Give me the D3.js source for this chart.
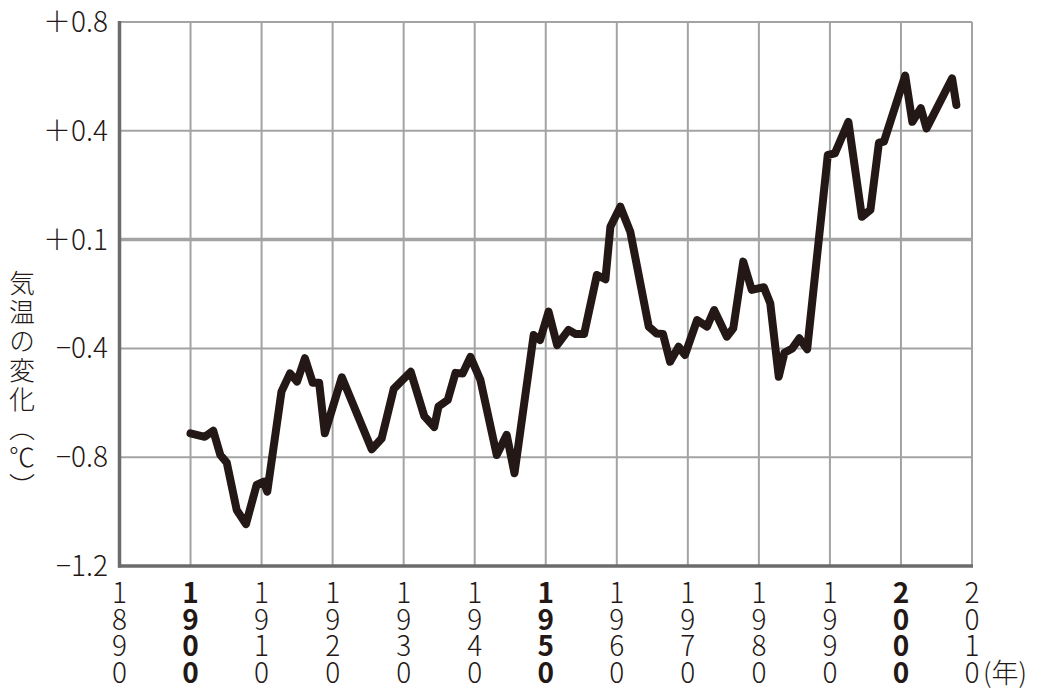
<!DOCTYPE html>
<html><head><meta charset="utf-8">
<script src="https://cdn.jsdelivr.net/npm/d3@7"></script>
<style>
html,body{margin:0;padding:0;background:#fff;}
text{font-family:"Noto Sans CJK JP","Noto Sans",sans-serif;fill:#231815;}
</style></head>
<body>
<svg id="chart" width="1040" height="700"></svg>
<script>
// Data (year, change in temperature on the plotted scale)
const years = [1900.0,1902.0,1903.2,1904.2,1905.1,1906.5,1907.8,1909.3,1910.3,1910.8,
  1912.8,1914.0,1915.0,1916.1,1917.2,1918.1,1918.9,1921.3,1925.5,1926.9,
  1928.6,1931.0,1932.9,1934.3,1934.9,1936.2,1937.3,1938.3,1939.4,1940.8,
  1943.1,1944.5,1945.6,1948.3,1949.2,1950.4,1951.6,1953.2,1954.2,1955.4,
  1957.2,1958.4,1959.1,1960.5,1961.9,1964.5,1965.6,1966.5,1967.5,1968.7,
  1969.6,1971.3,1972.7,1973.7,1975.5,1976.4,1977.8,1979.0,1980.7,1981.6,
  1982.8,1983.6,1984.7,1985.7,1986.8,1989.7,1990.7,1992.6,1994.5,1995.7,
  1996.9,1997.6,2000.6,2001.6,2002.8,2003.6,2007.2,2007.8];
const values = [-0.712,-0.725,-0.703,-0.792,-0.820,-0.994,-1.046,-0.902,-0.890,-0.927,
  -0.559,-0.492,-0.522,-0.436,-0.526,-0.526,-0.712,-0.506,-0.771,-0.731,
  -0.549,-0.486,-0.649,-0.689,-0.614,-0.590,-0.490,-0.492,-0.431,-0.516,
  -0.792,-0.718,-0.859,-0.351,-0.369,-0.265,-0.388,-0.332,-0.347,-0.347,
  -0.130,-0.146,0.047,0.121,0.029,-0.320,-0.345,-0.347,-0.449,-0.394,
  -0.424,-0.296,-0.320,-0.259,-0.357,-0.326,-0.081,-0.185,-0.175,-0.234,
  -0.504,-0.416,-0.400,-0.363,-0.403,0.311,0.317,0.433,0.084,0.109,
  0.356,0.360,0.603,0.433,0.483,0.409,0.593,0.495];
const yTickValues = [-1.2,-0.8,-0.4,0,0.4,0.8];
const yTickLabels = ["\u22121.2","\u22120.8","\u22120.4","\uFF0B0.1","\uFF0B0.4","\uFF0B0.8"];
const xTickValues = [1890,1900,1910,1920,1930,1940,1950,1960,1970,1980,1990,2000,2010];
const xBoldTicks = [1900,1950,2000];
const yTitle = "気温の変化\uFE35℃\uFE36";
const xUnit = "(年)";

const svg = d3.select("#chart");
const x = d3.scaleLinear().domain([1890,2010]).range([119.5,972]);
const y = d3.scaleLinear().domain([-1.2,0.8]).range([566,22]);

const grid = "#a3a3a3";
// vertical grid
svg.append("g").selectAll("line").data(xTickValues.filter(d=>d>1890)).join("line")
  .attr("x1",d=>x(d)).attr("x2",d=>x(d)).attr("y1",y(0.8)).attr("y2",y(-1.2))
  .attr("stroke",grid).attr("stroke-width",2);
// horizontal grid
svg.append("g").selectAll("line").data(yTickValues.filter(d=>d>-1.2)).join("line")
  .attr("x1",x(1890)).attr("x2",x(2010)).attr("y1",d=>y(d)).attr("y2",d=>y(d))
  .attr("stroke",grid).attr("stroke-width",d=>d===0?3.5:2);
// axes
svg.append("line").attr("x1",x(1890)).attr("x2",x(1890)).attr("y1",y(0.8)-1).attr("y2",y(-1.2)+1.5)
  .attr("stroke","#6b6b6b").attr("stroke-width",3.5);
svg.append("line").attr("x1",x(1890)-1.5).attr("x2",x(2010)+1).attr("y1",y(-1.2)).attr("y2",y(-1.2))
  .attr("stroke","#6b6b6b").attr("stroke-width",3.5);

// y tick labels
svg.append("g").selectAll("text").data(yTickValues).join("text")
  .attr("x",108).attr("y",d=>y(d)).attr("dy","0.36em")
  .attr("text-anchor","end").attr("font-size",28).attr("font-weight",300)
  .text((d,i)=>yTickLabels[i]);

// x tick labels, digits stacked vertically
const xl = svg.append("g").selectAll("text").data(xTickValues).join("text")
  .attr("font-size",28)
  .attr("font-weight",d=>xBoldTicks.includes(d)?700:300)
  .attr("text-anchor","middle");
xl.each(function(d){
  const t = d3.select(this);
  String(d).split("").forEach((c,i)=>{
    t.append("tspan").attr("x",x(d)).attr("y",603+i*26.7).text(c);
  });
});
svg.append("text").attr("x",983).attr("y",683).attr("font-size",27).attr("font-weight",300)
  .text(xUnit);

// y title vertical
svg.append("text").attr("transform","translate(22,270)")
  .attr("writing-mode","vertical-rl").attr("font-size",26).attr("font-weight",300)
  .attr("letter-spacing",3)
  .text(yTitle);

// line
const line = d3.line().x((d,i)=>x(years[i])).y((d,i)=>y(values[i]));
svg.append("path").datum(values).attr("d",line)
  .attr("fill","none").attr("stroke","#231815").attr("stroke-width",8)
  .attr("stroke-linejoin","round").attr("stroke-linecap","round");
</script>
</body></html>
